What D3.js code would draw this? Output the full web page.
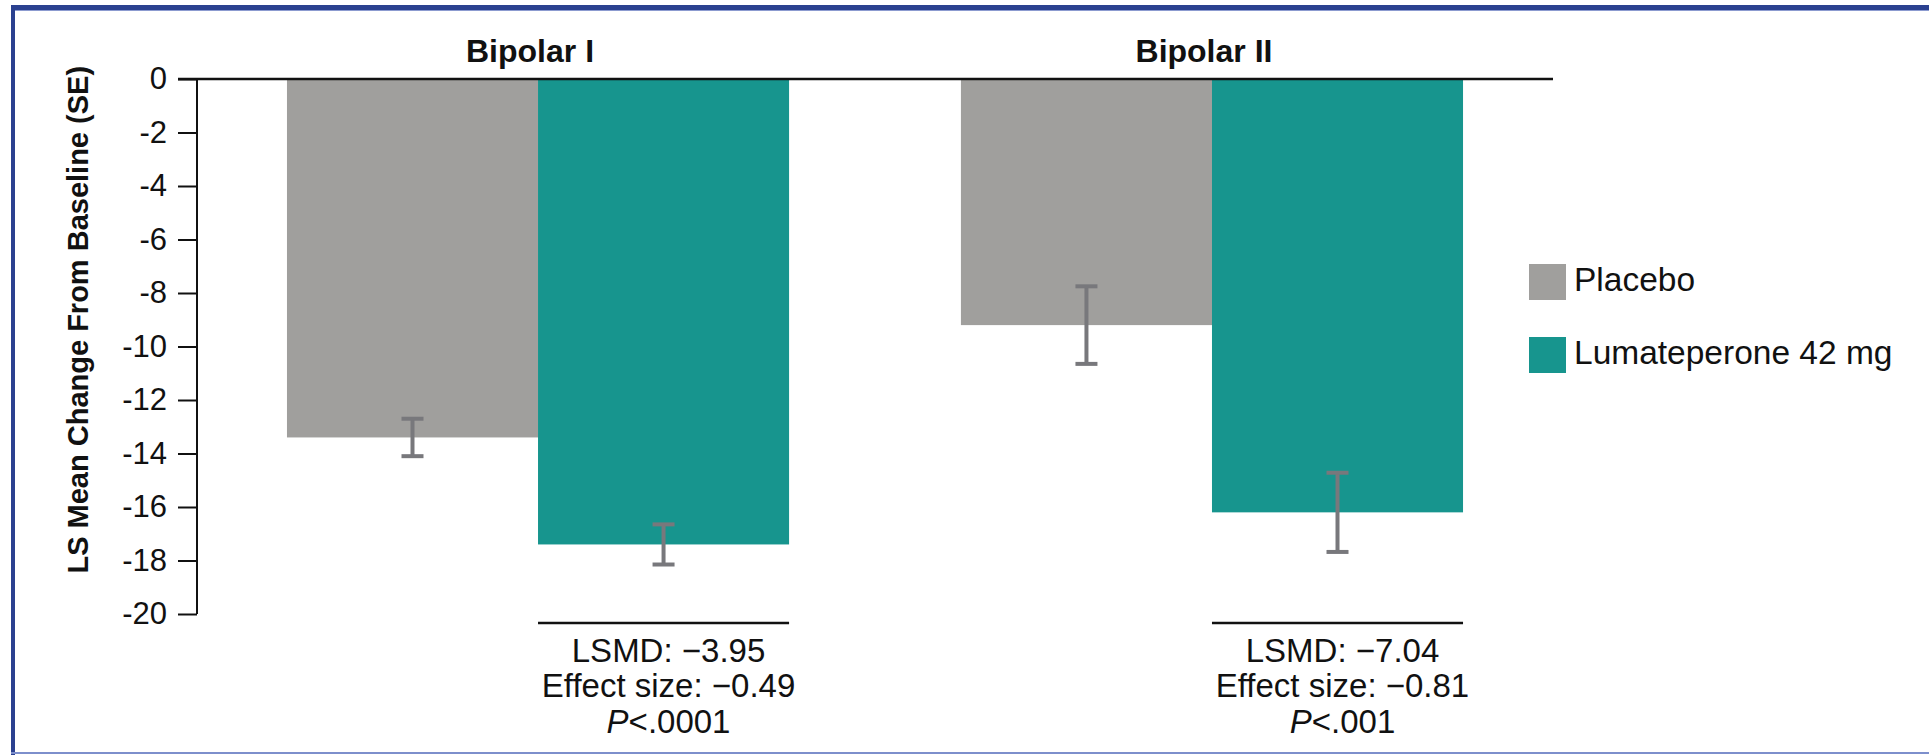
<!DOCTYPE html>
<html>
<head>
<meta charset="UTF-8">
<title>LS Mean Change From Baseline</title>
<script src="https://d3js.org/d3.v7.min.js"></script>
<style>
  body { margin: 0; background: #fff; }
  svg { display: block; font-family: "Liberation Sans", Arial, sans-serif; }
  .tick text { font-size: 31px; fill: #111; }
  .tick line, .domain { stroke: #111; stroke-width: 2px; }
</style>
</head>
<body>
<svg width="1929" height="755"></svg>
<script>
// data
var groups = ["Bipolar I", "Bipolar II"];
var seriesNames = ["Placebo", "Lumateperone 42 mg"];
var seriesColors = ["#a09f9d", "#17958e"];
var placeboMean = [-13.4, -9.2];
var placeboSE = [0.7, 1.45];
var lumaMean = [-17.4, -16.2];
var lumaSE = [0.75, 1.48];
var yTicks = [0, -2, -4, -6, -8, -10, -12, -14, -16, -18, -20];
var lsmd = ["\u22123.95", "\u22127.04"];
var effectSize = ["\u22120.49", "\u22120.81"];
var pValues = ["<.0001", "<.001"];

var svg = d3.select("svg");

// frame
svg.append("rect").attr("x", 11).attr("y", 5).attr("width", 1918).attr("height", 5).attr("fill", "#2b4190");
svg.append("rect").attr("x", 11).attr("y", 10).attr("width", 1918).attr("height", 1).attr("fill", "#8c9bd0");
svg.append("rect").attr("x", 11).attr("y", 5).attr("width", 4).attr("height", 750).attr("fill", "#2b4190");
svg.append("rect").attr("x", 11).attr("y", 752).attr("width", 1918).attr("height", 2).attr("fill", "#7d8fcc");

var x0 = d3.scaleBand().domain(groups).range([197, 1553]).paddingInner(0.255).paddingOuter(0.1335);
var x1 = d3.scaleBand().domain(seriesNames).range([0, x0.bandwidth()]);
var y = d3.scaleLinear().domain([0, -20]).range([79, 614]);

var rows = [];
groups.forEach(function(g, i) {
  rows.push({group: g, series: seriesNames[0], mean: placeboMean[i], se: placeboSE[i], color: seriesColors[0]});
  rows.push({group: g, series: seriesNames[1], mean: lumaMean[i], se: lumaSE[i], color: seriesColors[1]});
});

// bars
svg.append("g").selectAll("rect")
  .data(rows)
  .join("rect")
    .attr("x", function(d) { return x0(d.group) + x1(d.series); })
    .attr("y", y(0))
    .attr("width", x1.bandwidth())
    .attr("height", function(d) { return y(d.mean) - y(0); })
    .attr("fill", function(d) { return d.color; });

// error bars
var err = svg.append("g").attr("stroke", "#78787c").attr("stroke-width", 4);
rows.forEach(function(d) {
  var cx = x0(d.group) + x1(d.series) + x1.bandwidth() / 2;
  err.append("line").attr("x1", cx).attr("x2", cx).attr("y1", y(d.mean + d.se)).attr("y2", y(d.mean - d.se));
  err.append("line").attr("x1", cx - 11).attr("x2", cx + 11).attr("y1", y(d.mean + d.se)).attr("y2", y(d.mean + d.se));
  err.append("line").attr("x1", cx - 11).attr("x2", cx + 11).attr("y1", y(d.mean - d.se)).attr("y2", y(d.mean - d.se));
});

// y axis
var yAxis = svg.append("g")
  .attr("transform", "translate(197,0)")
  .call(d3.axisLeft(y).tickValues(yTicks).tickSize(19).tickPadding(11).tickFormat(function(d) { return d === 0 ? "0" : "-" + Math.abs(d); }));
yAxis.select(".domain").attr("d", "M0," + y(0) + "V" + y(-20));

// zero line across the top
svg.append("line")
  .attr("x1", 178).attr("x2", 1553)
  .attr("y1", y(0)).attr("y2", y(0))
  .attr("stroke", "#111").attr("stroke-width", 2.5);

svg.append("text")
  .attr("transform", "translate(88," + (y(-9)) + ") rotate(-90)")
  .attr("text-anchor", "middle")
  .attr("font-size", 29)
  .attr("font-weight", "bold")
  .attr("fill", "#111")
  .text("LS Mean Change From Baseline (SE)");

// group titles
svg.append("g").selectAll("text")
  .data(groups)
  .join("text")
    .attr("x", function(d) { return x0(d) + x0.bandwidth() / 2 - 8; })
    .attr("y", 62)
    .attr("text-anchor", "middle")
    .attr("font-size", 32)
    .attr("font-weight", "bold")
    .attr("fill", "#111")
    .text(function(d) { return d; });

// comparison notes under the drug bars
groups.forEach(function(g, i) {
  var left = x0(g) + x1(seriesNames[1]);
  var cx = left + x1.bandwidth() / 2 + 5;
  svg.append("line")
    .attr("x1", left).attr("x2", left + x1.bandwidth())
    .attr("y1", 623).attr("y2", 623)
    .attr("stroke", "#111").attr("stroke-width", 2.5);
  var t = svg.append("text").attr("text-anchor", "middle").attr("font-size", 33).attr("fill", "#111");
  t.append("tspan").attr("x", cx).attr("y", 662).text("LSMD: " + lsmd[i]);
  t.append("tspan").attr("x", cx).attr("y", 697).text("Effect size: " + effectSize[i]);
  var p = t.append("tspan").attr("x", cx).attr("y", 733);
  p.append("tspan").attr("font-style", "italic").text("P");
  p.append("tspan").text(pValues[i]);
});

// legend
var legend = svg.append("g").selectAll("g")
  .data(seriesNames)
  .join("g")
    .attr("transform", function(d, i) { return "translate(1529," + (264 + i * 73) + ")"; });
legend.append("rect")
  .attr("width", 37).attr("height", 36)
  .attr("fill", function(d, i) { return seriesColors[i]; });
legend.append("text")
  .attr("x", 45).attr("y", 27)
  .attr("font-size", 33.5)
  .attr("fill", "#111")
  .text(function(d) { return d; });
</script>
</body>
</html>
